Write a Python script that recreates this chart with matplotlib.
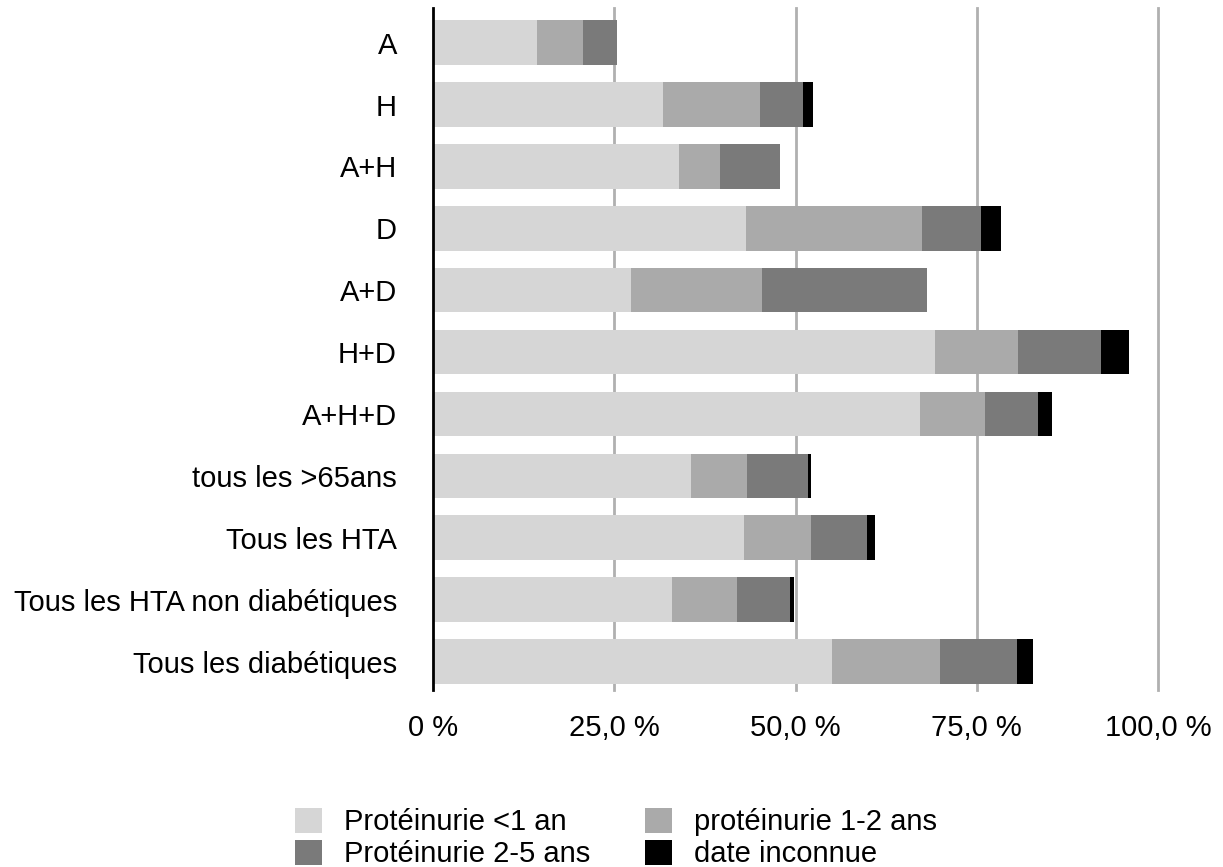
import matplotlib
matplotlib.use("Agg")
import matplotlib.pyplot as plt
import numpy as np

plt.rcParams['font.family'] = ['Liberation Sans', 'DejaVu Sans']

# categories, top to bottom
categories = ["A", "H", "A+H", "D", "A+D", "H+D", "A+H+D",
              "tous les >65ans", "Tous les HTA",
              "Tous les HTA non diabétiques", "Tous les diabétiques"]

# percentages per segment
lt1an = [14.3, 31.7, 33.9, 43.2, 27.3, 69.2, 67.2, 35.6, 42.9, 33.0, 55.0]
an1_2 = [6.4, 13.4, 5.7, 24.3, 18.1, 11.5, 9.0, 7.7, 9.2, 8.9, 14.9]
an2_5 = [4.7, 6.0, 8.2, 8.1, 22.7, 11.4, 7.3, 8.4, 7.7, 7.3, 10.7]
inconnue = [0.0, 1.3, 0.0, 2.7, 0.0, 3.9, 1.9, 0.4, 1.1, 0.6, 2.2]

series = [
    ("Protéinurie <1 an", lt1an, "#d6d6d6"),
    ("protéinurie 1-2 ans", an1_2, "#aaaaaa"),
    ("Protéinurie 2-5 ans", an2_5, "#7a7a7a"),
    ("date inconnue", inconnue, "#000000"),
]

xticks = [0, 25, 50, 75, 100]
xticklabels = ["0 %", "25,0 %", "50,0 %", "75,0 %", "100,0 %"]

fs = 21

fig = plt.figure(figsize=(12.23, 8.67), dpi=100)
ax = fig.add_axes([433/1223, 177/867, (1158-433)/1223, (690-8)/867])

y = np.arange(len(categories))
left = np.zeros(len(categories))
handles = {}
for name, vals, col in series:
    vals = np.array(vals)
    b = ax.barh(y, vals, left=left, height=0.72, color=col, label=name, zorder=3)
    handles[name] = b
    left += vals

ax.set_xlim(0, 100)
ax.set_ylim(10.46, -0.56)
ax.set_yticks(y)
ax.set_yticklabels(categories, fontsize=fs)
ax.set_xticks(xticks)
ax.set_xticklabels(xticklabels, fontsize=fs)
ax.tick_params(axis='y', length=0, pad=26)
ax.tick_params(axis='x', length=0, pad=17)
for v in xticks[1:]:
    ax.axvline(v, color="#b0b0b0", lw=2, zorder=1, clip_on=False)
for s in ["top", "right", "bottom"]:
    ax.spines[s].set_visible(False)
ax.spines["left"].set_linewidth(2)
ax.spines["left"].set_zorder(4)

order = ["Protéinurie <1 an", "Protéinurie 2-5 ans", "protéinurie 1-2 ans", "date inconnue"]
fig.legend([handles[n] for n in order], order, loc="center",
           bbox_to_anchor=(616/1223, 1 - 838/867), ncol=2, frameon=False,
           fontsize=fs, handlelength=0.93, handleheight=0.93, labelspacing=0.12,
           columnspacing=1.86, handletextpad=0.76, borderpad=0)

fig.savefig("out.png", dpi=100)
